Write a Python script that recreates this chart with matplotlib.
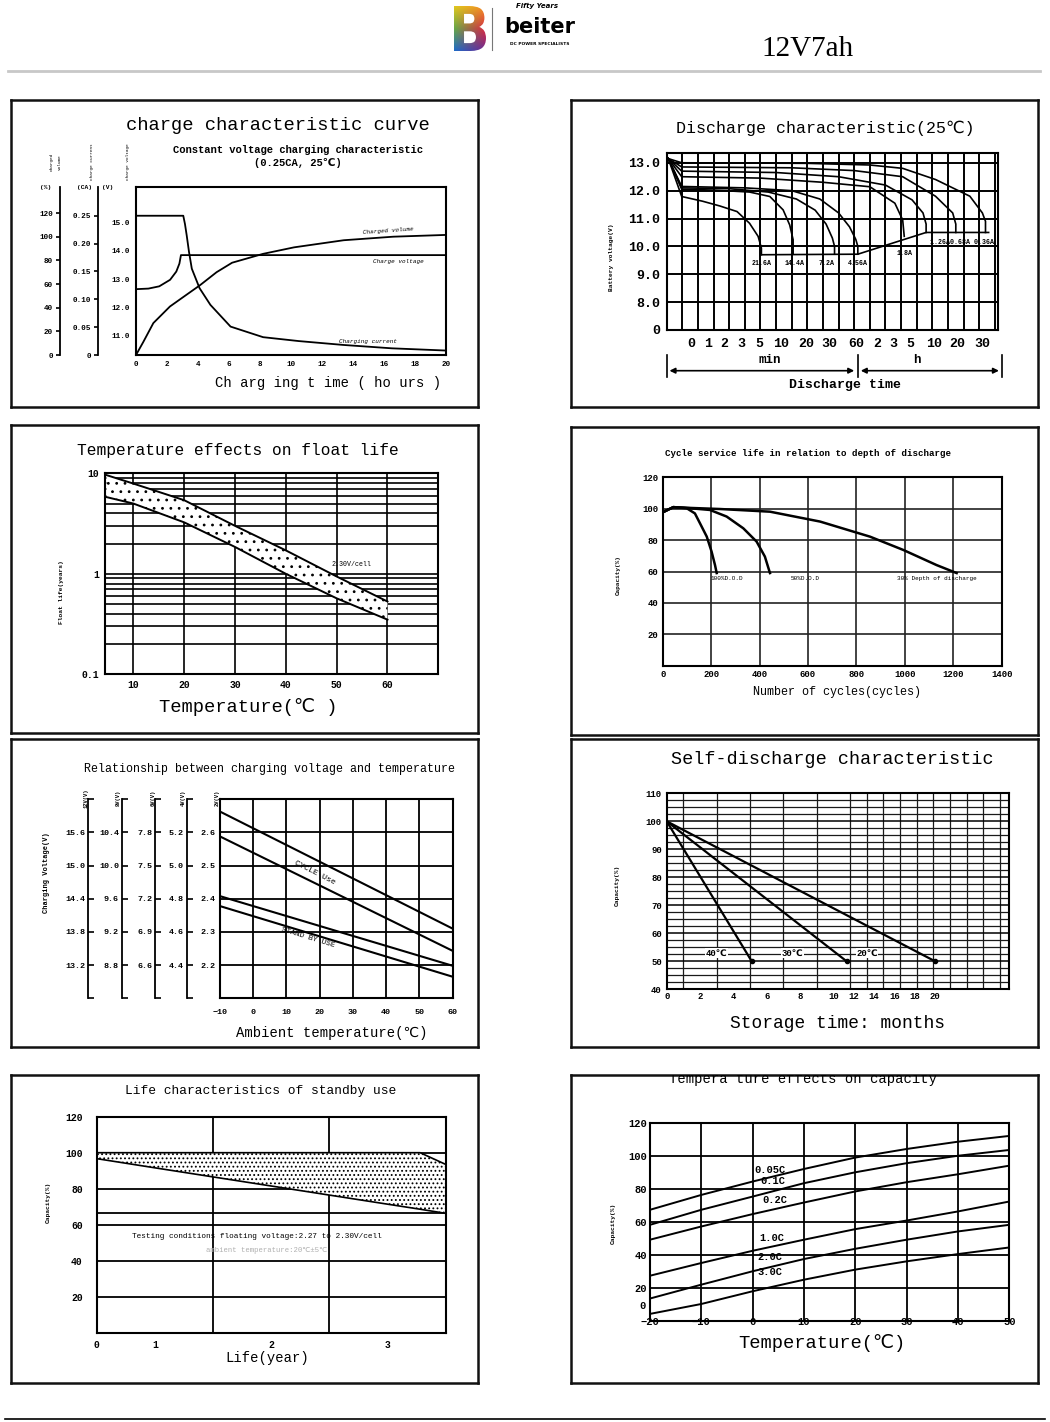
import numpy as np
import matplotlib
matplotlib.use("Agg")
import matplotlib.pyplot as plt
from matplotlib.patches import PathPatch, FancyArrowPatch
from matplotlib.lines import Line2D
from matplotlib.textpath import TextPath
from matplotlib.font_manager import FontProperties
from matplotlib.ticker import LogLocator, NullFormatter
from matplotlib.transforms import blended_transform_factory

W, H = 1050, 1422
MONO = ["Liberation Mono", "DejaVu Sans"]
plt.rcParams["font.family"] = MONO
plt.rcParams["hatch.linewidth"] = 0.8
plt.rcParams["axes.linewidth"] = 1.5

# ---------------- data ----------------
# 1. charge characteristic curve (0.25CA, 25C)
t_current = [0, 3.05, 3.16, 3.27, 3.42, 3.6, 4.1, 4.8, 6.1, 8.2, 10.5, 13.4, 16.5, 20]
charge_current = [0.25, 0.25, 0.235, 0.215, 0.185, 0.155, 0.12, 0.09, 0.051, 0.032, 0.025, 0.018, 0.012, 0.008]
t_voltage = [0, 0.8, 1.5, 2.2, 2.6, 2.8, 2.9, 20]
charge_voltage = [12.65, 12.67, 12.75, 12.98, 13.27, 13.55, 13.85, 13.85]
t_volume = [0, 0.47, 1.12, 2.19, 3.05, 4.13, 5.2, 6.2, 8.2, 10.2, 13.4, 16.6, 20]
charged_volume = [0, 11, 27, 41, 49, 59, 70, 78, 85.5, 91, 97, 100, 101.5]
volt_ticks = [11.0, 12.0, 13.0, 14.0, 15.0]
ca_ticks = [0, 0.05, 0.10, 0.15, 0.20, 0.25]
ca_labels = ["0", "0.05", "0.10", "0.15", "0.20", "0.25"]
pct_ticks = [0, 20, 40, 60, 80, 100, 120]

# 2. discharge characteristic (x in chart columns)
time_labels = ["0", "1", "2", "3", "5", "10", "20", "30", "60", "2", "3", "5", "10", "20", "30"]
time_pos = [1.6, 2.66, 3.7, 4.8, 5.9, 7.3, 8.9, 10.4, 12.1, 13.5, 14.5, 15.6, 17.1, 18.6, 20.2]
dis_rates = ["21.6A", "14.4A", "7.2A", "4.56A", "1.8A", "1.26A", "0.68A", "0.36A"]
dis_x = [
    [0.1, 0.96, 2.3, 3.4, 4.5, 5.3, 5.85, 6.06, 6.06],
    [0.1, 0.96, 3.0, 5.3, 6.6, 7.45, 7.87, 8.09, 8.09],
    [0.1, 0.96, 4.0, 6.5, 8.3, 9.5, 10.2, 10.6, 10.74, 10.74],
    [0.1, 0.96, 5.0, 8.0, 9.8, 11.0, 11.7, 12.1, 12.23, 12.23],
    [0.1, 0.96, 6, 10, 13, 14.6, 15.1, 15.2],
    [0.1, 0.96, 7, 11, 14, 15.7, 16.4, 16.6, 16.6],
    [0.1, 0.96, 8, 12, 15.1, 17.2, 18.3, 18.5, 18.5],
    [0.1, 0.96, 9, 13, 15.1, 17.2, 19.4, 20.2, 20.4, 20.4],
]
dis_v = [
    [13.15, 11.79, 11.62, 11.45, 11.25, 10.83, 10.36, 9.94, 9.7],
    [13.15, 12.05, 12.02, 11.95, 11.79, 11.31, 10.77, 10.24, 9.72],
    [13.15, 12.1, 12.07, 11.95, 11.7, 11.3, 10.8, 10.3, 10.0, 9.72],
    [13.15, 12.15, 12.1, 12.0, 11.7, 11.2, 10.7, 10.25, 10.0, 9.72],
    [13.15, 12.5, 12.45, 12.3, 12.14, 11.55, 10.95, 10.36],
    [13.15, 12.7, 12.65, 12.5, 12.2, 11.67, 11.2, 10.8, 10.5],
    [13.15, 12.85, 12.82, 12.72, 12.5, 11.8, 11.2, 10.8, 10.5],
    [13.15, 13.0, 12.98, 12.92, 12.8, 12.4, 11.8, 11.2, 10.9, 10.5],
]
end_x = [6.06, 12.23, 16.6, 20.6]
end_v = [9.7, 9.72, 10.5, 10.5]
volt2_ticks = [7, 8, 9, 10, 11, 12, 13]
volt2_labels = ["0", "8.0", "9.0", "10.0", "11.0", "12.0", "13.0"]

# 3. temperature effects on float life
float_temp = [4.7, 10, 20, 30, 40, 50, 60]
float_upper = [9.6, 7.9, 5.4, 3.0, 1.71, 0.94, 0.53]
float_lower = [5.8, 5.0, 3.25, 1.85, 1.0, 0.57, 0.35]

# 4. cycle service life vs depth of discharge
dod100_x = [0, 44, 99, 133, 154, 182, 202, 216, 223]
dod100_y = [97.7, 101, 100.3, 97, 90.7, 82.2, 72.6, 64.1, 59]
dod50_x = [0, 44, 113, 195, 264, 333, 388, 422, 443]
dod50_y = [97.7, 101, 100.3, 99.2, 95, 87.5, 79, 69.5, 59]
dod30_x = [0, 44, 113, 237, 443, 650, 856, 994, 1131, 1214]
dod30_y = [97.7, 101, 100.5, 99.8, 98.1, 91.8, 82.2, 73.7, 64.1, 59]
cycle_ticks = [0, 200, 400, 600, 800, 1000, 1200, 1400]

# 5. charging voltage vs temperature (V per cell)
amb_temp = [-10, 60]
cycle_hi = [2.663, 2.31]
cycle_lo = [2.588, 2.243]
standby_hi = [2.408, 2.198]
standby_lo = [2.378, 2.165]
per_cell_ticks = [2.2, 2.3, 2.4, 2.5, 2.6]
scale_cells = [6, 4, 3, 2]
scale_names = ["12V(V)", "8V(V)", "6V(V)", "4V(V)", "2V(V)"]

# 6. self-discharge
sd_labels = ["40℃", "30℃", "20℃"]
sd_months = [[0, 5.1], [0, 11.3], [0, 20.0]]
sd_capacity = [[100, 50], [100, 50], [100, 50]]
sd_ticks = [0, 2, 4, 6, 8, 10, 12, 14, 16, 18, 20]

# 7. standby life
life_years = [0, 1, 2, 3, 3.28, 3.5]
life_upper = [100, 100, 100, 100, 100, 93.5]
life_lower = [96.7, 91.6, 81.5, 71.4, 68.6, 66.3]

# 8. temperature effects on capacity
cap_temp = [-20, -10, 0, 10, 20, 30, 40, 50]
cap_rates = ["0.05C", "0.1C", "0.2C", "1.0C", "2.0C", "3.0C"]
cap_005 = [67.3, 76.3, 84.4, 92, 98.9, 104.1, 108.5, 112]
cap_01 = [58.2, 67.3, 75.3, 83.4, 90, 95.5, 100, 103.5]
cap_02 = [49.2, 57.2, 64.7, 71.7, 78.4, 84, 88.8, 94]
cap_10 = [27.4, 35.1, 42.5, 49.2, 55.6, 60.8, 66.3, 72.3]
cap_20 = [13.6, 22, 30.1, 37.5, 43.7, 49.2, 54.2, 58.2]
cap_30 = [4.3, 10.3, 18, 25, 31.1, 36.1, 40.5, 44.5]

# ---------------- helpers ----------------
fig = plt.figure(figsize=(W / 100, H / 100), dpi=100)


def box(x0, y0, x1, y1):
    return [x0 / W, 1 - y1 / H, (x1 - x0) / W, (y1 - y0) / H]


def txt(x, y, s, **kw):
    kw.setdefault("ha", "center")
    kw.setdefault("va", "center")
    return fig.text(x / W, 1 - y / H, s, **kw)


def line_px(xs, ys, **kw):
    fig.add_artist(Line2D([x / W for x in xs], [1 - y / H for y in ys],
                          transform=fig.transFigure, **kw))


def panel(x0, y0, x1, y1):
    ax = fig.add_axes(box(x0, y0, x1, y1))
    ax.set_xticks([])
    ax.set_yticks([])
    for s in ax.spines.values():
        s.set_linewidth(1.8)
        s.set_color("#111111")
    return ax


def bold(ax):
    plt.setp(ax.get_xticklabels() + ax.get_yticklabels(), fontweight="bold")


def piecewise(xk, gk):
    return (lambda x: np.interp(x, xk, gk), lambda g: np.interp(g, gk, xk))


# panel frames
pan = [panel(11, 100, 478, 407), panel(571, 100, 1038, 407),
       panel(11, 425, 478, 733), panel(571, 427, 1038, 735),
       panel(11, 739, 478, 1047), panel(571, 739, 1038, 1047),
       panel(11, 1075, 478, 1383), panel(571, 1075, 1038, 1383)]

# ---------------- header ----------------
axL = fig.add_axes(box(454, 6, 486, 51))
axL.axis("off")
tp = TextPath((0, 0), "B", size=10, prop=FontProperties(family="DejaVu Sans", weight="bold"))
ext = tp.get_extents()
axL.set_xlim(ext.x0, ext.x1)
axL.set_ylim(ext.y0, ext.y1)
v = np.linspace(0, 1, 60)[:, None, None]
u = np.linspace(0, 1, 40)[None, :, None]
left_top, left_mid, left_bot = np.array([0.88, 0.78, 0.12]), np.array([0.40, 0.66, 0.28]), np.array([0.12, 0.42, 0.78])
right_top, right_mid, right_bot = np.array([0.96, 0.56, 0.14]), np.array([0.86, 0.16, 0.26]), np.array([0.44, 0.16, 0.56])
left = np.where(v < 0.5, left_top + (left_mid - left_top) * v * 2, left_mid + (left_bot - left_mid) * (v - 0.5) * 2)
right = np.where(v < 0.5, right_top + (right_mid - right_top) * v * 2, right_mid + (right_bot - right_mid) * (v - 0.5) * 2)
grad = left + (right - left) * u
im = axL.imshow(grad, extent=(ext.x0, ext.x1, ext.y0, ext.y1), aspect="auto", origin="upper")
bp = PathPatch(tp, transform=axL.transData, facecolor="none", edgecolor="none")
axL.add_patch(bp)
im.set_clip_path(bp)
line_px([492, 492], [8, 50], color="#777777", lw=0.8)
txt(537, 6, "Fifty Years", fontsize=5, style="italic", fontweight="bold", family="DejaVu Sans")
txt(540, 27, "beiter", fontsize=15, fontweight="bold", family="DejaVu Sans")
txt(540, 44, "DC POWER SPECIALISTS", fontsize=3.2, family="DejaVu Sans", fontweight="bold")
txt(808, 49, "12V7ah", fontsize=21, family="Liberation Serif")
line_px([8, 1040], [71, 71], color="#c8c8c8", lw=2)
line_px([5, 1045], [1419, 1419], color="black", lw=1.2)

# ---------------- 1. charge characteristic ----------------
R1 = (136, 187, 446, 355)
ax1 = fig.add_axes(box(*R1))
ax1.set_xlim(0, 20)
ax1.set_ylim(10.33, 16.25)
ax1.set_xticks(range(0, 21, 2))
ax1.set_yticks(volt_ticks)
ax1.set_yticklabels([f"{t:.1f}" for t in volt_ticks])
ax1.tick_params(length=0, labelsize=5.5, pad=4)
bold(ax1)
ax1.plot(t_voltage, charge_voltage, color="k", lw=1.3)
for tks, lbls, lim, xp, xs, ys in [
        (ca_ticks, ca_labels, 0.3016, 98, t_current, charge_current),
        (pct_ticks, [str(p) for p in pct_ticks], 142, 60, t_volume, charged_volume)]:
    a = fig.add_axes(box(*R1))
    a.patch.set_visible(False)
    for s in ["top", "right", "bottom"]:
        a.spines[s].set_visible(False)
    a.spines["left"].set_position(("axes", (xp - R1[0]) / (R1[2] - R1[0])))
    a.spines["left"].set_linewidth(1.3)
    a.set_xlim(0, 20)
    a.set_xticks([])
    a.set_ylim(0, lim)
    a.set_yticks(tks)
    a.set_yticklabels(lbls)
    a.tick_params(axis="y", direction="out", length=3, width=1.2, labelsize=5.5, pad=2)
    bold(a)
    a.plot(xs, ys, color="k", lw=1.3)
txt(46, 188, "(%)", fontsize=4.5, fontweight="bold")
txt(85, 188, "(CA)", fontsize=4.5, fontweight="bold")
txt(108, 188, "(V)", fontsize=4.5, fontweight="bold")
txt(56, 162, "Charged\nvolume", fontsize=3.2, rotation=90, linespacing=2.4)
txt(92, 162, "Charge current", fontsize=3.2, rotation=90)
txt(128, 162, "Charge voltage", fontsize=3.2, rotation=90)
txt(278, 125, "charge characteristic curve", fontsize=13.5)
txt(298, 150, "Constant voltage charging characteristic", fontsize=7.6, fontweight="bold")
txt(298, 163, "(0.25CA, 25℃)", fontsize=7.6, fontweight="bold")
txt(328, 383, "Ch arg ing t ime ( ho urs )", fontsize=10)
txt(388, 231, "Charged volume", fontsize=4.3, style="italic", rotation=4)
txt(398, 262, "Charge voltage", fontsize=4.3, style="italic")
txt(368, 341, "Charging current", fontsize=4.3, style="italic")

# ---------------- 2. discharge characteristic ----------------
ax2 = fig.add_axes(box(666.7, 153.3, 998, 330))
ax2.set_xlim(0, 21.2)
ax2.set_ylim(7.0, 13.34)
ax2.set_xticks(time_pos)
ax2.set_xticklabels(time_labels)
ax2.set_xticks(np.arange(1, 22), minor=True)
ax2.set_yticks(volt2_ticks)
ax2.set_yticklabels(volt2_labels)
ax2.grid(which="minor", axis="x", color="k", lw=1.4)
ax2.grid(which="major", axis="y", color="k", lw=1.4)
ax2.tick_params(which="both", length=0, labelsize=9.5)
ax2.tick_params(axis="x", pad=6)
ax2.tick_params(axis="y", pad=5)
bold(ax2)
for xs, vs in zip(dis_x, dis_v):
    ax2.plot(xs, vs, color="k", lw=1.2)
ax2.plot(end_x, end_v, color="k", lw=1.2)
for lbl, xp, yp in zip(dis_rates[:5], [6.1, 8.2, 10.2, 12.2, 15.2], [9.37, 9.37, 9.37, 9.37, 9.73]):
    ax2.text(xp, yp, lbl, fontsize=4.8, fontweight="bold", ha="center", va="center")
ax2.text(18.9, 10.15, "1.26A0.68A 0.36A", fontsize=4.8, fontweight="bold", ha="center", va="center")
txt(825, 128, "Discharge characteristic(25℃)", fontsize=12)
txt(612, 257, "Battery voltage(V)", fontsize=4.5, rotation=90, fontweight="bold")
txt(770, 360, "min", fontsize=9, fontweight="bold")
txt(917, 360, "h", fontsize=9, fontweight="bold")
txt(845, 385, "Discharge time", fontsize=9.5, fontweight="bold")
for xa, xb in [(666.7, 857), (858, 1001.7)]:
    fig.add_artist(FancyArrowPatch((xa / W, 1 - 370.7 / H), (xb / W, 1 - 370.7 / H),
                                   transform=fig.transFigure, arrowstyle="<|-|>",
                                   mutation_scale=8, color="k", lw=1.2))
for xv in [666.7, 857.5, 1001.7]:
    line_px([xv, xv], [355, 377], color="k", lw=1.2)

# ---------------- 3. float life ----------------
ax3 = fig.add_axes(box(105, 473.3, 438.3, 674.3))
ax3.set_yscale("log")
ax3.set_xlim(4.42, 70)
ax3.set_ylim(0.1, 10)
ax3.set_xticks([10, 20, 30, 40, 50, 60])
ax3.set_yticks([0.1, 1, 10])
ax3.set_yticklabels(["0.1", "1", "10"])
ax3.yaxis.set_minor_locator(LogLocator(subs=np.arange(2, 10)))
ax3.yaxis.set_minor_formatter(NullFormatter())
ax3.grid(which="both", color="k", lw=1.2)
ax3.tick_params(which="both", length=0, labelsize=7, pad=4)
bold(ax3)
ax3.fill_between(float_temp, float_lower, float_upper, facecolor="white",
                 edgecolor="black", hatch="..", linewidth=0, zorder=2)
ax3.plot(float_temp, float_upper, color="k", lw=1.4, zorder=3)
ax3.plot(float_temp, float_lower, color="k", lw=1.4, zorder=3)
ax3.text(53, 1.25, "2.30V/cell", fontsize=4.8, ha="center", va="center")
txt(238, 450, "Temperature effects on float life", fontsize=11.7)
txt(62, 592, "Float life(years)", fontsize=4.5, rotation=90, fontweight="bold")
txt(248, 707, "Temperature(℃ )", fontsize=13.5)

# ---------------- 4. cycle life ----------------
ax4 = fig.add_axes(box(662.7, 477.3, 1001.7, 665.7))
ax4.set_xlim(0, 1400)
ax4.set_ylim(0, 120)
ax4.set_xticks(cycle_ticks)
ax4.set_yticks([20, 40, 60, 80, 100, 120])
ax4.grid(color="#222222", lw=1.2)
ax4.tick_params(length=0, labelsize=6.5, pad=3)
bold(ax4)
for xs, ys in [(dod100_x, dod100_y), (dod50_x, dod50_y), (dod30_x, dod30_y)]:
    ax4.plot(xs, ys, color="k", lw=1.8)
ax4.text(267, 55.6, "100%D.O.D", fontsize=4.3, ha="center", va="center")
ax4.text(588, 55.6, "50%D.O.D", fontsize=4.3, ha="center", va="center")
ax4.text(1134, 55.6, "30% Depth of discharge", fontsize=4.3, ha="center", va="center")
txt(808, 453, "Cycle service life in relation to depth of discharge", fontsize=6.6, fontweight="bold")
txt(837, 692, "Number of cycles(cycles)", fontsize=8.5)
txt(618, 575, "Capacity(%)", fontsize=4.3, rotation=90, fontweight="bold")

# ---------------- 5. charging voltage vs temperature ----------------
R5 = (220, 799.3, 452.7, 998.3)
ax5 = fig.add_axes(box(*R5))
ax5.set_xlim(-10, 60)
ax5.set_ylim(2.1, 2.7)
ax5.set_xticks(range(-10, 61, 10))
ax5.set_yticks(per_cell_ticks)
ax5.set_yticklabels([f"{t:.1f}" for t in per_cell_ticks])
ax5.grid(color="k", lw=1.3)
ax5.tick_params(length=0, labelsize=6, pad=3)
ax5.tick_params(axis="x", pad=8)
bold(ax5)
for ys in [cycle_hi, cycle_lo, standby_hi, standby_lo]:
    ax5.plot(amb_temp, ys, color="k", lw=1.5)
ax5.text(18.5, 2.478, "CYCLE Use", fontsize=6, rotation=-27, ha="center", va="center")
ax5.text(16.5, 2.283, "STAND BY USE", fontsize=5.5, rotation=-17, ha="center", va="center")
for n, xp in zip(scale_cells, [88, 121.7, 155, 186.7]):
    a = fig.add_axes(box(*R5))
    a.patch.set_visible(False)
    for s in ["top", "right", "bottom"]:
        a.spines[s].set_visible(False)
    a.spines["left"].set_position(("axes", (xp - R5[0]) / (R5[2] - R5[0])))
    a.spines["left"].set_linewidth(1.3)
    a.set_xticks([])
    a.set_ylim(2.1 * n, 2.7 * n)
    a.set_yticks([n * t for t in [2.1] + per_cell_ticks + [2.7]])
    a.set_yticklabels([""] + [f"{n * t:.1f}" for t in per_cell_ticks] + [""])
    a.tick_params(axis="y", direction="in", length=4, width=1.2, labelsize=6, pad=2)
    bold(a)
for name, xp in zip(scale_names, [86, 118.3, 152.7, 183.3, 217.3]):
    txt(xp, 798, name, fontsize=4, rotation=90, fontweight="bold")
txt(270, 769, "Relationship between charging voltage and temperature", fontsize=8.4)
txt(332, 1033, "Ambient temperature(℃)", fontsize=10)
txt(47, 873, "Charging Voltage(V)", fontsize=5, rotation=90, fontweight="bold")

# ---------------- 6. self-discharge ----------------
ax6 = fig.add_axes(box(666.7, 793.3, 1009.3, 989.3))
fwd6, inv6 = piecewise([0, 10, 40], [0, 10, 10 + 30 * 0.61])
ax6.set_xscale("function", functions=(fwd6, inv6))
ax6.set_xlim(0, float(inv6(20.55)))
ax6.set_ylim(40, 110)
ax6.set_xticks(sd_ticks)
ax6.set_xticks(inv6(np.arange(1, 21)), minor=True)
ax6.set_yticks(range(40, 111, 10))
ax6.set_yticks(np.arange(42.5, 110, 2.5), minor=True)
ax6.grid(which="minor", color="#1a1a1a", lw=0.9)
ax6.grid(which="major", axis="y", color="k", lw=1.1)
ax6.tick_params(which="both", length=0, labelsize=6.5)
ax6.tick_params(axis="x", pad=2)
ax6.xaxis.set_minor_formatter(NullFormatter())
ax6.yaxis.set_minor_formatter(NullFormatter())
bold(ax6)
for xs, ys in zip(sd_months, sd_capacity):
    ax6.plot(xs, ys, color="k", lw=1.6)
    ax6.plot(xs[-1], ys[-1], "o", color="k", ms=3)
for lbl, xp in zip(sd_labels, [3.0, 7.56, 13.3]):
    ax6.text(xp, 52.9, lbl, fontsize=6.5, fontweight="bold", ha="center", va="center",
             bbox=dict(facecolor="white", edgecolor="none", pad=0.3))
txt(832, 759, "Self-discharge characteristic", fontsize=13.3)
txt(837, 1023, "Storage time: months", fontsize=12.9)
txt(617, 885, "Capacity(%)", fontsize=4.5, rotation=90, fontweight="bold")

# ---------------- 7. standby life ----------------
ax7 = fig.add_axes(box(96.7, 1116.7, 445.7, 1332.7))
fwd7, inv7 = piecewise([0, 1, 5], [0.5, 1, 5])
ax7.set_xscale("function", functions=(fwd7, inv7))
ax7.set_xlim(0, 3.5)
ax7.set_ylim(0, 120)
ax7.set_xticks([0, 1, 2, 3])
ax7.set_xticks([1, 1.5, 2, 2.5, 3], minor=True)
ax7.set_yticks([20, 40, 60, 80, 100, 120])
ax7.grid(which="minor", axis="x", color="k", lw=1.3)
ax7.grid(which="major", axis="y", color="k", lw=1.3)
ax7.xaxis.set_minor_formatter(NullFormatter())
ax7.tick_params(which="both", length=0, labelsize=7)
ax7.tick_params(axis="x", pad=5)
ax7.tick_params(axis="y", pad=10)
bold(ax7)
ax7.axhline(life_lower[-1], color="k", lw=1.3)
ax7.fill_between(life_years, life_lower, life_upper, facecolor="white",
                 edgecolor="black", hatch="....", linewidth=0, zorder=2)
ax7.plot(life_years, life_lower, color="k", lw=1.2, zorder=3)
ax7.plot(life_years, life_upper, color="k", lw=1.2, zorder=3)
txt(257, 1237, "Testing conditions floating voltage:2.27 to 2.30V/cell", fontsize=5.6)
txt(267, 1250, "ambient temperature:20℃±5℃", fontsize=5.2, color="#b0b0b0")
txt(261, 1091, "Life characteristics of standby use", fontsize=9.3)
txt(267, 1358, "Life(year)", fontsize=10)
txt(48, 1202, "Capacity(%)", fontsize=4.5, rotation=90, fontweight="bold")

# ---------------- 8. temperature effects on capacity ----------------
ax8 = fig.add_axes(box(650, 1122.7, 1009.3, 1321))
ax8.set_xlim(-20, 50)
ax8.set_ylim(0, 120)
ax8.set_xticks(range(-20, 51, 10))
ax8.set_yticks(range(0, 121, 20))
ax8.set_yticklabels([""] + [str(t) for t in range(20, 121, 20)])
ax8.grid(color="k", lw=1.3)
ax8.tick_params(length=0, labelsize=7.5, pad=2)
ax8.tick_params(axis="x", pad=-3)
bold(ax8)
ax8.text(-0.012, 9, "0", fontsize=7.5, fontweight="bold", ha="right", va="center",
         transform=blended_transform_factory(ax8.transAxes, ax8.transData))
for ys in [cap_005, cap_01, cap_02, cap_10, cap_20, cap_30]:
    ax8.plot(cap_temp, ys, color="k", lw=1.4)
for lbl, xp, yp in zip(cap_rates, [3.4, 4.0, 4.3, 3.7, 3.4, 3.4], [91.4, 84.8, 73.3, 50.2, 38.7, 29.7]):
    ax8.text(xp, yp, lbl, fontsize=7.5, fontweight="bold", ha="center", va="center")
pan[7].text(803 / W, 1 - 1083.5 / H, "Tempera ture effects on capacity", fontsize=10,
            ha="center", va="baseline", transform=fig.transFigure, clip_on=True)
txt(822, 1343, "Temperature(℃)", fontsize=13.5)
txt(613, 1223, "Capacity(%)", fontsize=4.5, rotation=90, fontweight="bold")

fig.savefig("out.png", dpi=100)
